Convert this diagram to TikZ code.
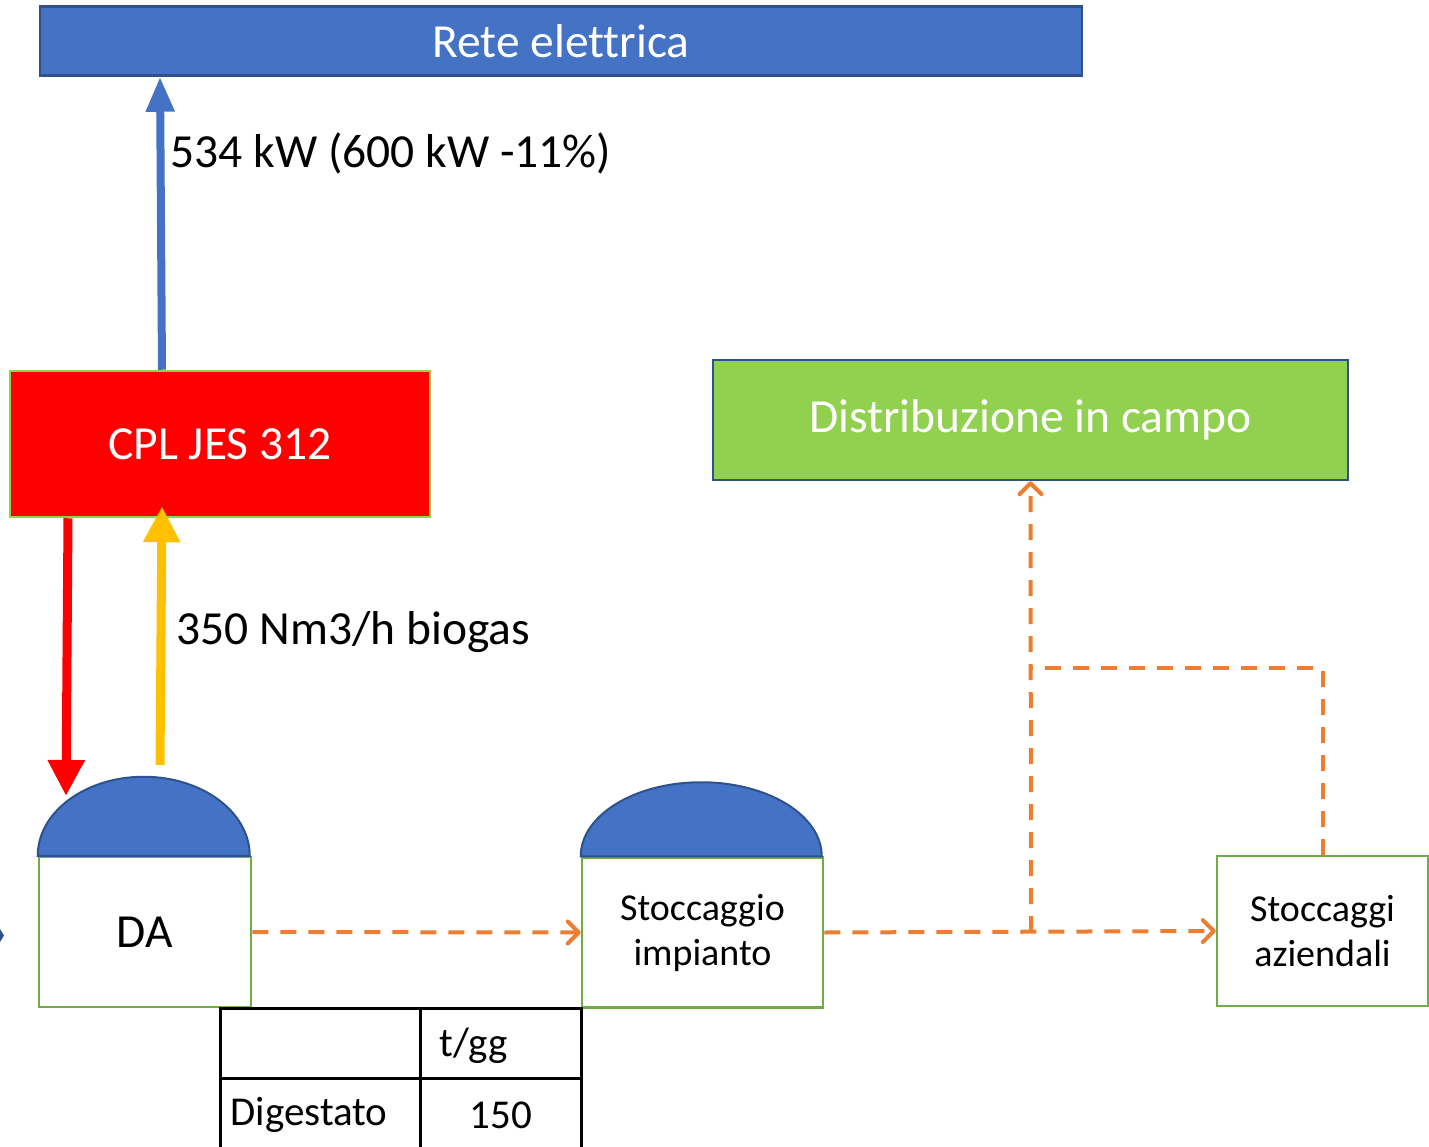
\documentclass[tikz,border=0pt]{standalone}
\usepackage{fontspec}
\setmainfont[Ligatures=NoCommon]{Carlito}
\usetikzlibrary{arrows.meta}
\definecolor{netblue}{HTML}{4472C4}
\definecolor{edgeblue}{HTML}{2F528F}
\definecolor{boxgreen}{HTML}{70AD47}
\definecolor{limegreen}{HTML}{92D050}
\definecolor{flowor}{HTML}{ED7D31}
\definecolor{gasyellow}{HTML}{FFC000}
\newcommand{\bigfont}{\fontsize{47.5}{56}\selectfont}
\newcommand{\midfont}{\fontsize{38}{45}\selectfont}
\newcommand{\tabfont}{\fontsize{41}{49}\selectfont}
\begin{document}
\begin{tikzpicture}[x=1pt,y=-1pt,
  block/.style={draw,line width=2.5pt,minimum width=#1,inner sep=0pt,font=\bigfont,text=white},
  tank/.style={draw=boxgreen,line width=2.5pt,fill=white,minimum width=#1,minimum height=150pt,inner sep=0pt,align=center},
  dome/.style={draw=edgeblue,line width=2pt,fill=netblue},
  fat/.style={line width=#1},
  flow/.style={draw=flowor,line width=4pt,dash pattern=on 16pt off 12pt},
  flowtip/.style={-{Straight Barb[length=11pt,width=22pt,round]}}]
  \useasboundingbox (0,0) rectangle (1429,1147);
  % boxes
  \node[block=1042pt,fill=netblue,draw=edgeblue,minimum height=69pt] (rete) at (561,41) {Rete elettrica};
  \node[block=420pt,fill=red,draw=limegreen,minimum height=146pt] (cpl) at (220,444) {CPL JES 312};
  \node[block=635pt,fill=limegreen,draw=edgeblue,minimum height=120pt] (dist) at (1030.5,420) {Distribuzione in campo};
  \node[tank=212pt,font=\bigfont] (da) at (145,932) {DA};
  \node[tank=241pt,font=\midfont] (si) at (702.5,932.5) {Stoccaggio\\impianto};
  \node[tank=211pt,font=\midfont] (sa) at (1322.5,931) {Stoccaggi\\aziendali};
  % domes
  \draw[dome] (da.north west) arc[start angle=180,end angle=0,x radius=106pt,y radius=79pt] -- cycle;
  \draw[dome] (si.north west) arc[start angle=180,end angle=0,x radius=120.5pt,y radius=74pt] -- cycle;
  % helper points
  \coordinate (dain) at (66,796);
  \coordinate (gasout) at (160,765);
  \coordinate (split) at (1031,932);
  \coordinate (branch) at (1031,668);
  % power, gas
  \draw[netblue,fat=8pt,-{Triangle[length=35pt,width=27pt]}] ([xshift=-58pt]cpl.north) -- ([xshift=-401pt]rete.south);
  \draw[red,fat=9pt,-{Triangle[length=36pt,width=35pt]}] ([xshift=-152pt]cpl.south) -- (dain);
  \draw[gasyellow,fat=9pt,-{Triangle[length=36pt,width=35pt]}] (gasout) -- ([xshift=-58pt,yshift=12pt]cpl.south);
  \node[anchor=west,font=\bigfont] (pow) at (167,153) {534 kW (600 kW -11\%)};
  \node[anchor=west,font=\bigfont] (gas) at (173,632) {350 Nm3/h biogas};
  % digestate
  \draw[flow,flowtip] (da.east) -- (si.west);
  \draw[flow,flowtip] (si.east) -- (sa.west);
  \draw[flow,flowtip] (split) -- (dist.south);
  \draw[flow] (sa.north) |- (branch);
  \fill[edgeblue] (0,929) -- (4,935.5) -- (0,942) -- cycle;
  % table
  \draw[line width=3pt] (220,1147) -- (220,1008) -- (581,1008) -- (581,1147);
  \draw[line width=3pt] (420,1008) -- (420,1147);
  \draw[line width=3pt] (220,1078) -- (581,1078);
  \node[anchor=west,font=\tabfont] (unit) at (436,1046) {t/gg};
  \node[anchor=west,font=\tabfont] (dig) at (227,1115) {Digestato};
  \node[font=\tabfont] (qty) at (501,1115) {150};
\end{tikzpicture}
\end{document}
